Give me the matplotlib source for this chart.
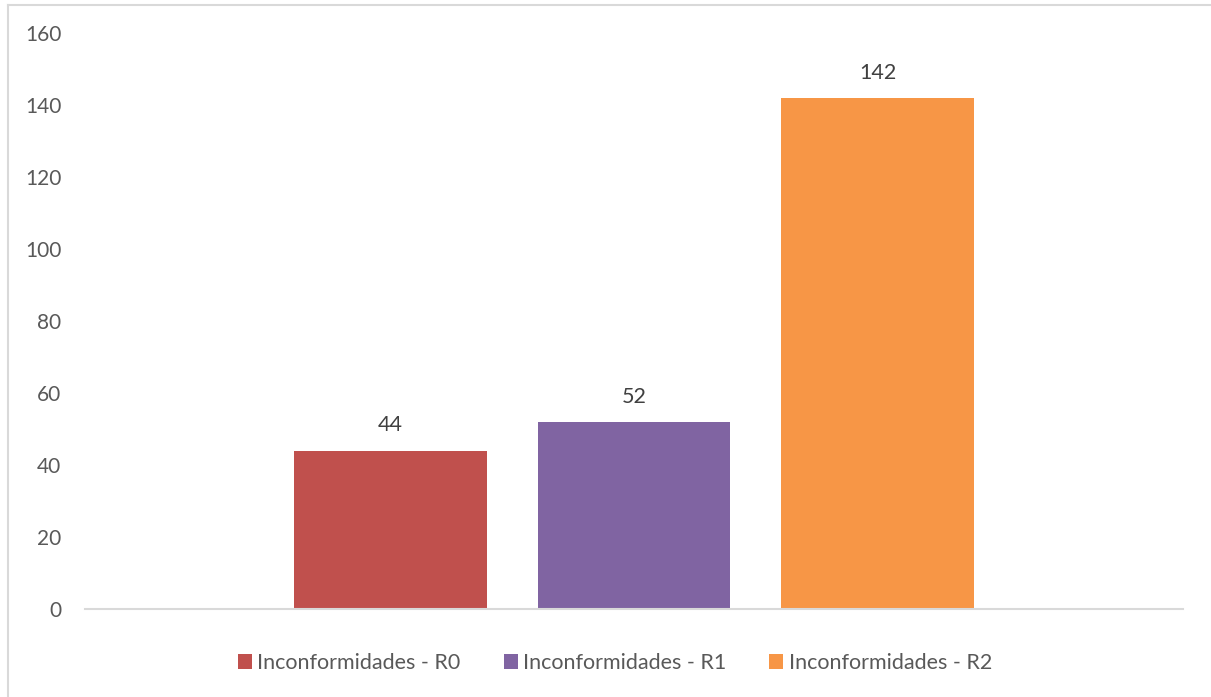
import matplotlib.pyplot as plt
from matplotlib.lines import Line2D

# Inconformidades por revisão
series = ['Inconformidades - R0', 'Inconformidades - R1', 'Inconformidades - R2']
values = [44, 52, 142]
colors = ['#C0504D', '#8064A2', '#F79646']

plt.rcParams['font.family'] = ['Lato', 'DejaVu Sans']

W, H = 1211, 697
fig = plt.figure(figsize=(W / 100, H / 100), dpi=100)
ax = fig.add_axes([85 / W, 1 - 609 / H, (1183 - 85) / W, (609 - 33) / H])

width = 0.175
step = 0.2218
for i, (name, v, c) in enumerate(zip(series, values, colors)):
    x = (i - 1) * step
    ax.bar(x, v, width=width, color=c, label=name, zorder=2)
    ax.annotate(str(v), (x, v), xytext=(0, 11), textcoords='offset points',
                ha='center', va='bottom', fontsize=15.5, color='#404040')

ax.set_xlim(-0.5, 0.5)
ax.set_ylim(0, 160)
ax.set_yticks(range(0, 161, 20))
ax.set_xticks([])
ax.tick_params(axis='y', length=0, pad=17, labelsize=15, labelcolor='#595959')
for s in ['top', 'right', 'left']:
    ax.spines[s].set_visible(False)
ax.spines['bottom'].set_color('#d9d9d9')
ax.spines['bottom'].set_linewidth(1.5)

leg = ax.legend(loc='center', bbox_to_anchor=((615 - 85) / (1183 - 85), (609 - 663) / (609 - 33)),
                ncol=3, frameon=False, fontsize=15.5, handlelength=0.65,
                handleheight=0.65, handletextpad=0.25, columnspacing=2.0)
for t in leg.get_texts():
    t.set_color('#595959')

# chart border (left and top edges)
fig.add_artist(Line2D([7.5 / W, 7.5 / W], [0, 1 - 5 / H], color='#d9d9d9', lw=1.5,
                      transform=fig.transFigure))
fig.add_artist(Line2D([7.5 / W, 1], [1 - 5 / H, 1 - 5 / H], color='#d9d9d9', lw=1.5,
                      transform=fig.transFigure))

fig.savefig('out.png', dpi=100, facecolor='white')
